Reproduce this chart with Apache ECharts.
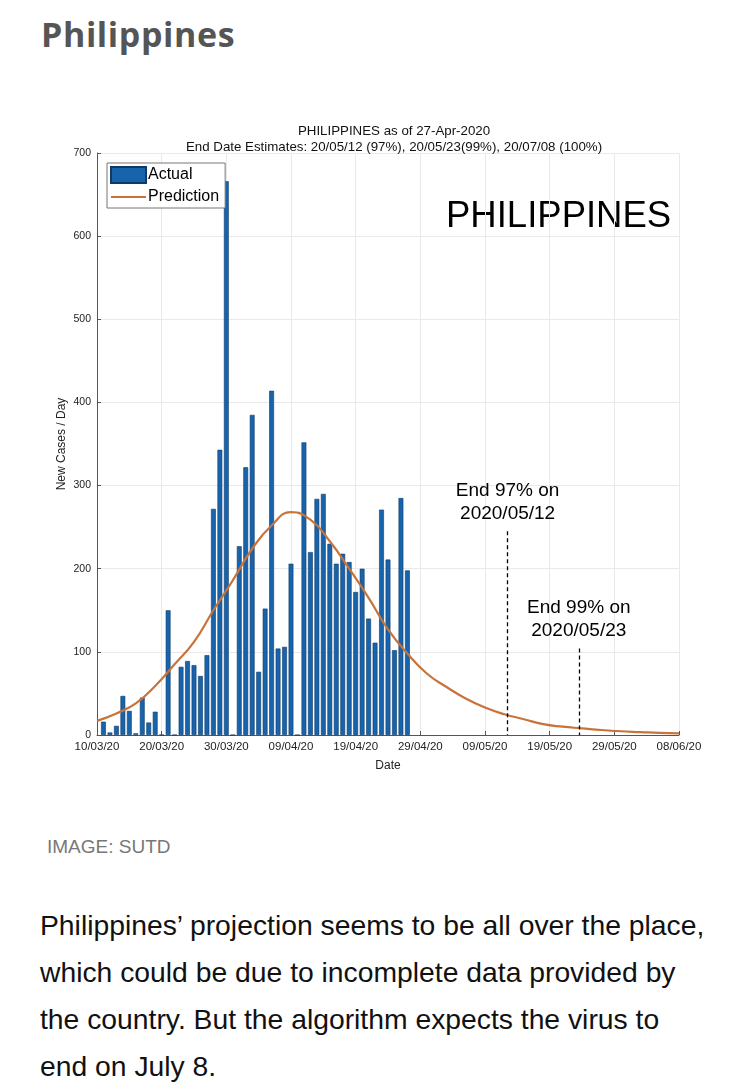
<!DOCTYPE html>
<html>
<head>
<meta charset="utf-8">
<script src="https://cdn.jsdelivr.net/npm/echarts@6/dist/echarts.min.js"></script>
<style>
body{margin:0;background:#fff;width:750px;height:1089px;overflow:hidden;}
#main{position:absolute;left:0;top:0;width:750px;height:800px;}
.head{position:absolute;left:41px;top:12px;margin:0;font:700 34px/45px "Open Sans",sans-serif;letter-spacing:0.6px;color:#555;}
.credit{position:absolute;left:47px;top:837px;font:19px/20px "Liberation Sans",Arial,sans-serif;color:#777;}
.story{position:absolute;left:40px;top:902px;width:710px;margin:0;font:28.3px/47px "Liberation Sans",Arial,sans-serif;color:#111;white-space:nowrap;}
</style>
</head>
<body>
<h1 class="head">Philippines</h1>
<div id="main"></div>
<div class="credit">IMAGE: SUTD</div>
<p class="story">Philippines’ projection seems to be all over the place,<br>which could be due to incomplete data provided by<br>the country. But the algorithm expects the virus to<br>end on July 8.</p>
<script type="text/javascript">
// axis runs from 10/03/20 to 08/06/20, one unit = one day
var startDate = '2020-03-10';
var endDate = '2020-06-08';

// daily new cases, starting 11/03/20
var actualFrom = '2020-03-11';
var actualCases = [16, 3, 11, 47, 29, 2, 45, 15, 28, 0,
	150, 0, 82, 89, 84, 71, 96, 272, 343, 666,
	0, 227, 322, 385, 76, 152, 414, 104, 106, 206,
	0, 352, 220, 284, 290, 230, 206, 218, 208, 172,
	200, 140, 111, 271, 211, 102, 285, 198];

// fitted curve, every third day
var predDates = ['2020-03-10', '2020-03-13', '2020-03-16', '2020-03-19', '2020-03-22', '2020-03-25',
	'2020-03-28', '2020-03-31', '2020-04-03', '2020-04-06', '2020-04-09', '2020-04-12',
	'2020-04-15', '2020-04-18', '2020-04-21', '2020-04-24', '2020-04-27', '2020-04-30',
	'2020-05-03', '2020-05-06', '2020-05-09', '2020-05-12', '2020-05-15', '2020-05-18',
	'2020-05-21', '2020-05-24', '2020-05-27', '2020-05-30', '2020-06-02', '2020-06-05',
	'2020-06-08'];
var predValues = [17, 26, 38, 59, 85, 112,
	150, 186, 224, 252, 268, 259,
	233, 200, 165, 127, 98, 74,
	58, 44, 33, 25, 19, 13,
	10, 8, 6, 4.5, 3.5, 2.5,
	2];

// end date markers
var endDates = ['2020-05-12', '2020-05-23'];
var endHeights = [245, 104];
var endLabels = ['End 97% on\n2020/05/12', 'End 99% on\n2020/05/23'];

var DAY = 86400000;
var t0 = Date.parse(startDate);
function dayIndex(s) { return (Date.parse(s) - t0) / DAY; }
function pad(n) { return (n < 10 ? '0' : '') + n; }
function dateLabel(v) {
	var d = new Date(t0 + v * DAY);
	return pad(d.getUTCDate()) + '/' + pad(d.getUTCMonth() + 1) + '/' + String(d.getUTCFullYear()).slice(2);
}

var first = dayIndex(actualFrom);
var barData = actualCases.map(function (v, i) { return [first + i, v]; });
var lineData = predDates.map(function (d, i) { return [dayIndex(d), predValues[i]]; });
var endMarks = endDates.map(function (d, i) {
	var x = dayIndex(d) + 0.5;
	return [{ coord: [x, endHeights[i]], name: endLabels[i] }, { coord: [x, 0] }];
});

var font = '"Liberation Sans", Arial, sans-serif';
myChart = echarts.init(document.getElementById('main'));
myChart.setOption(option = {
	textStyle: { fontFamily: font },
	animation: false,
	title: {
		text: 'PHILIPPINES as of 27-Apr-2020\nEnd Date Estimates: 20/05/12 (97%), 20/05/23(99%), 20/07/08 (100%)',
		left: 389, top: 118, textAlign: 'center',
		textStyle: { fontSize: 13.3, fontWeight: 'normal', color: '#111', lineHeight: 16, fontFamily: font }
	},
	legend: {
		data: [
			{ name: 'Actual', icon: 'rect' },
			{ name: 'Prediction', itemStyle: { opacity: 0 } }
		],
		orient: 'vertical', left: 107, top: 163,
		itemWidth: 35, itemHeight: 16, itemGap: 5,
		padding: [3, 6, 3, 3],
		borderColor: '#777', borderWidth: 1, backgroundColor: '#fff',
		textStyle: { fontSize: 16, color: '#000', fontFamily: font, padding: [0, 0, 0, -3] }
	},
	graphic: [{
		type: 'text', left: 446, top: 198,
		style: { text: 'PHILIPPINES', fontSize: 36.5, fill: '#000', fontFamily: font }
	}],
	grid: { left: 97, right: 71, top: 153, bottom: 65 },
	xAxis: {
		type: 'value', min: 0, max: dayIndex(endDate), interval: 10,
		name: 'Date', nameLocation: 'middle', nameGap: 25,
		nameTextStyle: { fontSize: 12, color: '#222' },
		axisLine: { show: true, lineStyle: { color: '#555' } },
		axisTick: { show: true, inside: true, length: 4, lineStyle: { color: '#555' } },
		axisLabel: { formatter: dateLabel, fontSize: 11.5, color: '#222', margin: 6 },
		splitLine: { show: true, lineStyle: { color: '#e9e9e9' } }
	},
	yAxis: {
		type: 'value', min: 0, max: 700, interval: 100,
		name: 'New Cases / Day', nameLocation: 'middle', nameGap: 29, nameMoveOverlap: false,
		nameTextStyle: { fontSize: 12, color: '#222' },
		axisLine: { show: true, lineStyle: { color: '#555' } },
		axisTick: { show: true, inside: true, length: 4, lineStyle: { color: '#555' } },
		axisLabel: { fontSize: 10.5, color: '#222', margin: 6 },
		splitLine: { show: true, lineStyle: { color: '#e9e9e9' } }
	},
	series: [
		{
			name: 'Actual', type: 'bar', data: barData, barWidth: 4.8,
			itemStyle: { color: '#1764ad', borderColor: '#0f3a66', borderWidth: 0.6 }
		},
		{
			name: 'Prediction', type: 'line', data: lineData, smooth: true,
			symbol: 'none', z: 3,
			itemStyle: { color: '#c8733a' },
			lineStyle: { color: '#c8733a', width: 2.2 },
			markLine: {
				silent: true, symbol: 'none',
				lineStyle: { color: '#000', type: [4, 3], width: 1.3 },
				label: {
					show: true, position: 'start', formatter: '{b}', distance: 6,
					fontSize: 19, lineHeight: 23, color: '#000', fontFamily: font
				},
				data: endMarks
			}
		}
	]
});
</script>
</body>
</html>
